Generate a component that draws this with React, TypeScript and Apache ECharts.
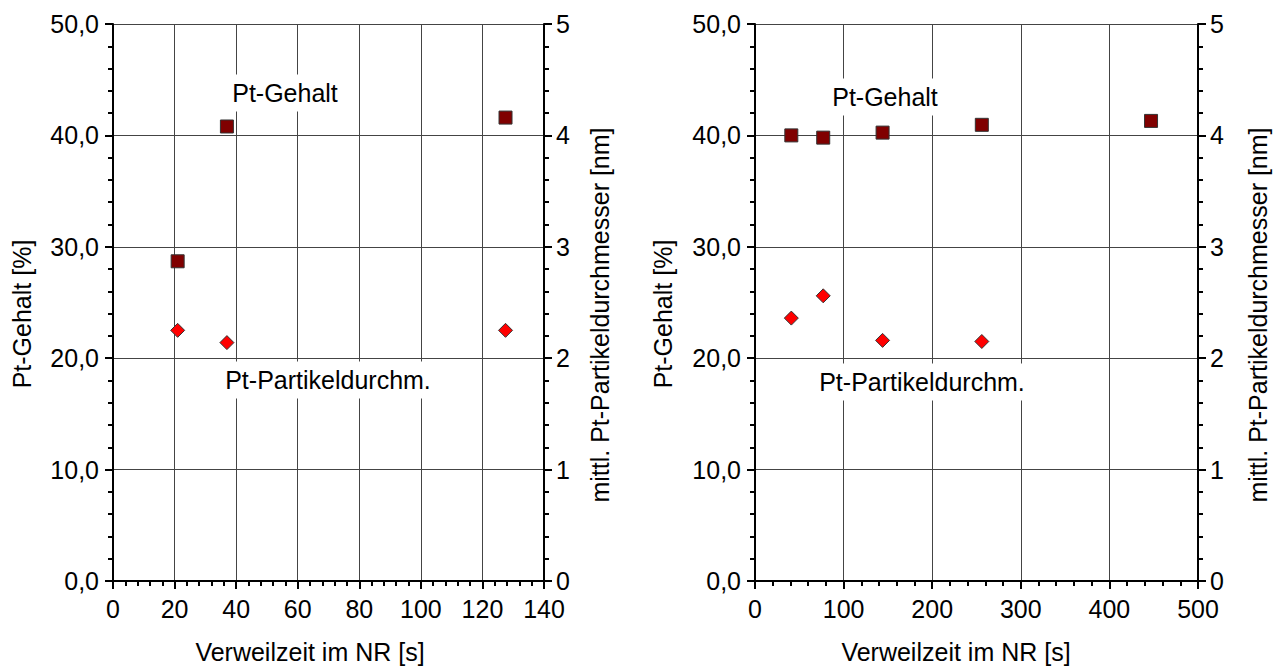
import React, { useEffect, useRef } from "react";
import * as echarts from "echarts";

// Left chart data
const leftTime = [21, 37, 127.5];
const leftPtGehalt = [28.7, 40.8, 41.6];
const leftDiameter = [2.25, 2.14, 2.25];

// Right chart data
const rightTime = [41, 77, 144, 256, 447];
const rightPtGehalt = [40.0, 39.8, 40.25, 40.95, 41.3];
const rightDiamTime = [41, 77, 144, 256];
const rightDiameter = [2.36, 2.56, 2.16, 2.15];

const xAxisTitle = "Verweilzeit im NR [s]";
const yLeftTitle = "Pt-Gehalt [%]";
const yRightTitle = "mittl. Pt-Partikeldurchmesser [nm]";
const labelGehalt = "Pt-Gehalt";
const labelPartikel = "Pt-Partikeldurchm.";

const FONT = "'Liberation Sans', Arial, sans-serif";
const FS = 25;

export default function App() {
  const ref = useRef<HTMLDivElement>(null);
  useEffect(() => {
    if (!ref.current) return;
    const chart = echarts.init(ref.current, undefined, { renderer: "svg" });
    const axisLine = { show: true, onZero: false, lineStyle: { color: "#000", width: 2 } };
    const axisTick = { show: true, inside: false, length: 8, lineStyle: { color: "#000", width: 2 } };
    const minorTick = { show: true, splitNumber: 5, length: 5, lineStyle: { color: "#000", width: 2 } };
    const splitLine = { show: true, lineStyle: { color: "#444", width: 1 } };
    const labelStyle = { color: "#000", fontFamily: FONT, fontSize: FS };
    const fmtPct = (v: number) => v.toFixed(1).replace(".", ",");

    const xAx = (gridIndex: number, max: number, interval: number) => ({
      type: "value",
      gridIndex,
      min: 0,
      max,
      interval,
      axisLine,
      axisTick,
      minorTick,
      splitLine,
      axisLabel: { ...labelStyle, margin: 15 },
    });
    const yLeft = (gridIndex: number) => ({
      type: "value",
      gridIndex,
      position: "left",
      min: 0,
      max: 50,
      interval: 10,
      axisLine,
      axisTick,
      minorTick,
      splitLine,
      axisLabel: { ...labelStyle, margin: 14, formatter: fmtPct },
    });
    const yRight = (gridIndex: number) => ({
      type: "value",
      gridIndex,
      position: "right",
      min: 0,
      max: 5,
      interval: 1,
      axisLine,
      axisTick,
      minorTick,
      splitLine: { show: false },
      axisLabel: { ...labelStyle, margin: 12 },
    });

    const squareStyle = { color: "#800000", borderColor: "#333", borderWidth: 1, opacity: 1 };
    const diamondStyle = { color: "#ff0000", borderColor: "#333", borderWidth: 1, opacity: 1 };

    const txt = (x: number, y: number, text: string, rotation = 0, bg = false) => ({
      type: "text",
      x,
      y,
      rotation,
      z: 100,
      style: {
        text,
        fill: "#000",
        font: `${FS}px ${FONT}`,
        lineHeight: FS,
        align: "center",
        verticalAlign: "middle",
        ...(bg ? { backgroundColor: "#fff", padding: [6, 8, 6, 8] } : {}),
      },
    });

    chart.setOption({
      animation: false,
      backgroundColor: "#fff",
      grid: [
        { left: 113, top: 24, width: 431, height: 557 },
        { left: 755, top: 24, width: 443, height: 557 },
      ],
      xAxis: [xAx(0, 140, 20), xAx(1, 500, 100)],
      yAxis: [yLeft(0), yRight(0), yLeft(1), yRight(1)],
      series: [
        {
          type: "scatter",
          xAxisIndex: 0,
          yAxisIndex: 0,
          symbol: "rect",
          symbolSize: 13,
          itemStyle: squareStyle,
          data: leftTime.map((t, i) => [t, leftPtGehalt[i]]),
          z: 5,
        },
        {
          type: "scatter",
          xAxisIndex: 0,
          yAxisIndex: 1,
          symbol: "diamond",
          symbolSize: 14,
          itemStyle: diamondStyle,
          data: leftTime.map((t, i) => [t, leftDiameter[i]]),
          z: 5,
        },
        {
          type: "scatter",
          xAxisIndex: 1,
          yAxisIndex: 2,
          symbol: "rect",
          symbolSize: 13,
          itemStyle: squareStyle,
          data: rightTime.map((t, i) => [t, rightPtGehalt[i]]),
          z: 5,
        },
        {
          type: "scatter",
          xAxisIndex: 1,
          yAxisIndex: 3,
          symbol: "diamond",
          symbolSize: 14,
          itemStyle: diamondStyle,
          data: rightDiamTime.map((t, i) => [t, rightDiameter[i]]),
          z: 5,
        },
      ],
      graphic: [
        txt(310, 652, xAxisTitle),
        txt(956, 652, xAxisTitle),
        txt(22, 314, yLeftTitle, Math.PI / 2),
        txt(663, 314, yLeftTitle, Math.PI / 2),
        txt(600, 315, yRightTitle, Math.PI / 2),
        txt(1258, 315, yRightTitle, Math.PI / 2),
        txt(285, 93, labelGehalt, 0, true),
        txt(328, 380, labelPartikel, 0, true),
        txt(885, 97, labelGehalt, 0, true),
        txt(922, 382, labelPartikel, 0, true),
      ],
    });
    return () => chart.dispose();
  }, []);
  return (
    <div
      ref={ref}
      style={{ position: "fixed", left: 0, top: 0, width: 1278, height: 667, background: "#fff" }}
    />
  );
}
